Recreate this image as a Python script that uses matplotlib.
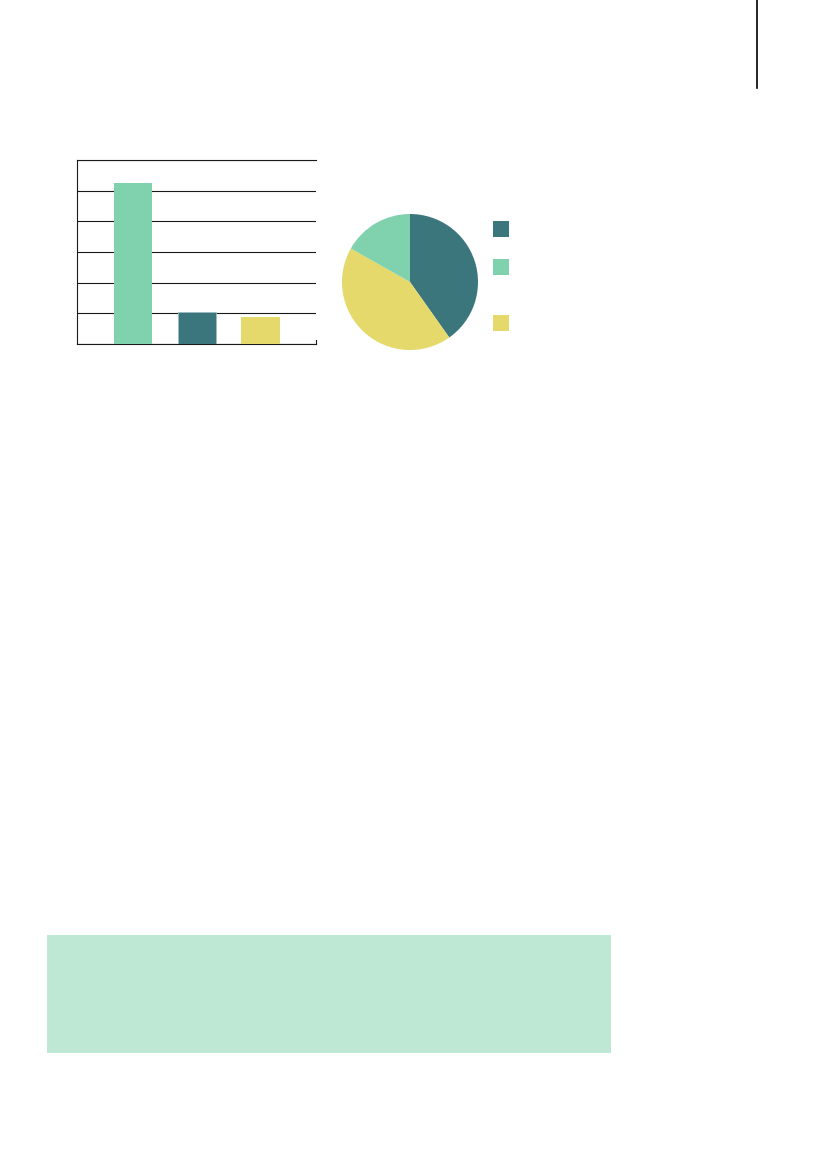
import matplotlib
matplotlib.use('Agg')

import matplotlib.pyplot as plt
import matplotlib.patches as patches
from matplotlib.lines import Line2D

# data
bar_cats = ['A', 'B', 'C']
bar_vals = [5.25, 1.03, 0.88]
bar_cols = ['#80D1AD', '#3B767C', '#E4D96A']

pie_vals = [40.2, 43.0, 16.8]
pie_cols = ['#3B767C', '#E4D96A', '#80D1AD']

legend_cols = ['#3B767C', '#80D1AD', '#E4D96A']
legend_tops = [221, 259, 315]   # pixel rows of the legend swatches

W, H = 827, 1169
fig = plt.figure(figsize=(W / 100, H / 100), dpi=100)
fig.patch.set_facecolor('white')


def px_box(x0, y0, x1, y1):
    # pixel box (top-left origin) -> figure fraction rect
    return [x0 / W, 1 - y1 / H, (x1 - x0) / W, (y1 - y0) / H]


# bar chart
ax = fig.add_axes(px_box(77, 160, 316, 344))
ax.bar(range(len(bar_cats)), bar_vals, width=0.6, color=bar_cols, zorder=3)
ax.patches[1].set_edgecolor('#9DBDC0')
ax.patches[1].set_linewidth(0.6)
ax.set_xlim(-0.88, 2.87)
ax.set_ylim(0, 6)
ax.set_yticks(range(0, 7))
ax.yaxis.grid(True, color='#1a1a1a', linewidth=0.8, zorder=0)
ax.set_axisbelow(True)
ax.tick_params(left=False, bottom=False, labelleft=False, labelbottom=False)
for s in ['left', 'bottom', 'top']:
    ax.spines[s].set_color('#1a1a1a')
    ax.spines[s].set_linewidth(0.8)
ax.spines['right'].set_color('#1a1a1a')
ax.spines['right'].set_linewidth(0.8)
ax.spines['right'].set_bounds(0, 0.13)

# pie chart
r = 68
pax = fig.add_axes(px_box(410 - r, 282 - r, 410 + r, 282 + r))
pax.pie(pie_vals, colors=pie_cols, startangle=90, counterclock=False,
        radius=1.0, wedgeprops=dict(linewidth=0))
pax.set_xlim(-1, 1)
pax.set_ylim(-1, 1)
pax.set_axis_off()

# legend swatches (labels are blank in the original)
for c, top in zip(legend_cols, legend_tops):
    x0, y0, w, h = px_box(493, top, 509, top + 16)
    fig.add_artist(patches.Rectangle((x0, y0), w, h, transform=fig.transFigure,
                                     facecolor=c, edgecolor='none'))

# mint box near the bottom
x0, y0, w, h = px_box(47, 935, 611, 1053)
fig.add_artist(patches.Rectangle((x0, y0), w, h, transform=fig.transFigure,
                                 facecolor='#BEE8D3', edgecolor='none'))

# thin rule at the top right
fig.add_artist(Line2D([757 / W, 757 / W], [1, 1 - 88 / H],
                      transform=fig.transFigure, color='black', linewidth=1.2))

fig.savefig('out.png', dpi=100)
